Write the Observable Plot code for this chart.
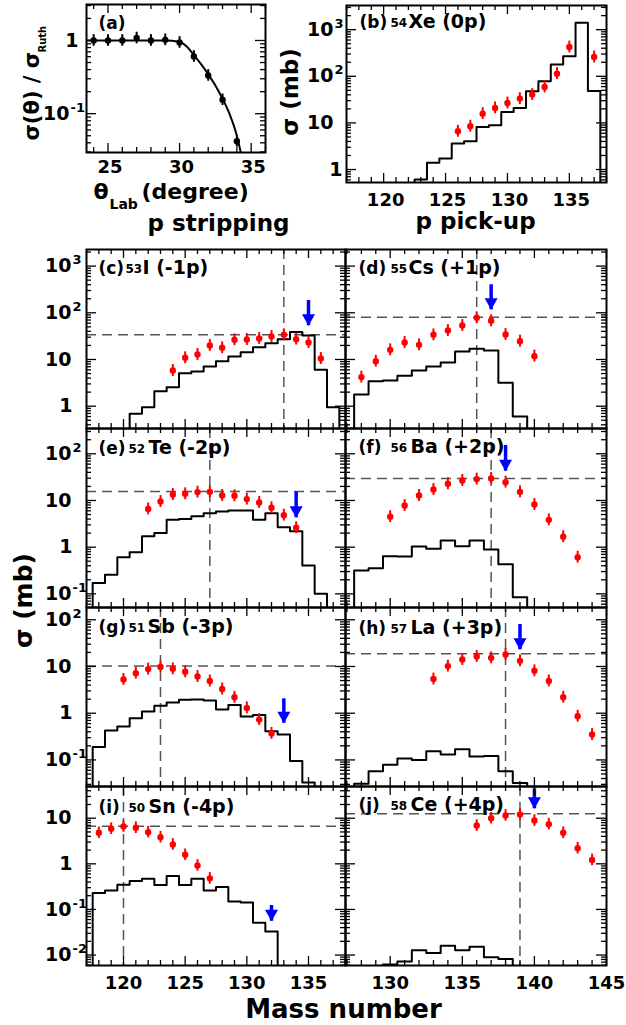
<!DOCTYPE html>
<html><head><meta charset="utf-8">
<script src="https://cdn.jsdelivr.net/npm/d3@7"></script>
<script src="https://cdn.jsdelivr.net/npm/@observablehq/plot@0.6"></script>
<style>
html,body{margin:0;padding:0;background:#fff;}
#chart{position:relative;width:626px;height:1025px;overflow:hidden;background:#fff;}
</style></head><body><div id="chart"></div>
<script>
// ---------------- data ----------------
// (a) elastic angular distribution
const angleA = [24,25,26,27,28,29,30,31,32,33,34];
const ratioA = [1.0,1.0,1.0,1.08,1.0,1.02,0.94,0.605,0.333,0.155,0.042];
const curveAngleA = [23.5,29,29.5,30,30.5,31,31.5,32,32.5,33,33.5,34,34.3];
const curveRatioA = [1,1,0.99,0.96,0.83,0.63,0.475,0.345,0.243,0.16,0.098,0.05,0.028];
const xTicksA = [25,30,35];
const yTicksA = [0.1,1];

// (b) 54Xe (0p)
const massB = [126,127,128,129,130,131,132,133,134,135,137];
const sigmaB = [6.6,8.5,15.8,21,26.8,33.2,40.5,59,114,425,260];
const histFirstB = 118;
const histB = [0.5,0.5,0.5,0.5,0.5,0.61,1.39,1.72,3.6,4.05,8.2,8.9,17.2,21,47.7,78,178,268,1413,48.5];
const xTicksB = [120,125,130,135];
const yTicksB = [1,10,100,1000];

// (c) 53I (-1p)
const massC = [124,125,126,127,128,129,130,131,132,133,134,135,136];
const sigmaC = [5.8,10.9,12.8,20,17.8,26.4,26.8,28.2,31.1,33.8,27.3,23.1,10.5];
const histFirstC = 121;
const histC = [0.69,0.95,2.1,2.55,5.1,5.5,7.1,9.2,11.6,14.3,18.4,22.4,27.2,39,32.6,6,0.95];
const refC = [133, 33.8];
const arrowC = [135, 53, 183];

// (d) 55Cs (+1p)
const massD = [128,129,130,131,132,133,134,135,136,137,138,139,140];
const sigmaD = [4.2,9.2,16.1,23.1,20.6,33.8,41.8,53.5,78.1,67.4,34.3,24.7,11.8];
const histFirstD = 128;
const histD = [1.78,3.43,3.55,4.5,5.8,7.1,8.6,14.8,16.9,15.6,3.16,0.6];
const refD = [136, 80.6];
const arrowD = [137, 116, 398];

// (e) 52Te (-2p)
const massE = [122,123,124,125,126,127,128,129,130,131,132,133,134];
const sigmaE = [6.6,9.5,13.4,13.9,15.1,15.3,12.8,12.6,10.7,9.1,7.0,4.85,2.6];
const histFirstE = 118;
const histE = [0.17,0.255,0.61,0.78,1.72,2.0,3.85,4.0,4.6,5.35,5.8,6.1,6.1,3.85,5.35,2.68,2.2,0.405,0.1];
const refE = [127, 15.6];
const arrowE = [134, 4.26, 15.1];

// (f) 56Ba (+2p)
const massF = [130,131,132,133,134,135,136,137,138,139,140,141,142,143];
const sigmaF = [4.5,7.8,12.8,17.2,22.8,26.8,28.7,29.6,24.7,15.3,8.2,3.85,1.67,0.61];
const histFirstF = 128;
const histF = [0.316,0.355,0.64,0.63,1.03,0.92,1.39,1.05,1.39,0.89,0.43,0.085];
const refF = [137, 29.6];
const arrowF = [138, 42.4, 151];

// (g) 51Sb (-3p)
const massG = [120,121,122,123,124,125,126,127,128,129,130,131,132];
const sigmaG = [5.27,7.2,8.8,9.8,8.9,7.7,6.1,4.9,3.3,2.2,1.3,0.73,0.37];
const histFirstG = 118;
const histG = [0.19,0.425,0.52,0.78,1.09,1.44,1.69,1.93,1.96,1.87,1.2,1.5,0.85,0.92,0.41,0.35,0.095,0.033];
const refG = [123, 10.2];
const arrowG = [133, 0.61, 2.03];

// (h) 57La (+3p)
const massH = [133,134,135,136,137,138,139,140,141,142,143,144];
const sigmaH = [5.4,10.2,14.1,16.4,15.3,18.1,13.2,8.1,4.9,2.2,0.86,0.35];
const histFirstH = 128;
const histH = [0.031,0.057,0.079,0.107,0.1,0.153,0.13,0.17,0.118,0.122,0.057,0.032];
const refH = [138, 18.7];
const arrowH = [139, 22.8, 79];

// (i) 50Sn (-4p)
const massI = [118,119,120,121,122,123,124,125,126,127];
const sigmaI = [4.8,5.9,6.6,6.2,4.95,3.85,2.66,1.58,0.92,0.48];
const histFirstI = 118;
const histI = [0.23,0.26,0.35,0.42,0.47,0.345,0.54,0.345,0.47,0.26,0.31,0.149,0.142,0.051,0.033];
const refI = [120, 6.7];
const arrowI = [132, 0.055, 0.122];

// (j) 58Ce (+4p)
const massJ = [136,137,138,139,140,141,142,143,144];
const sigmaJ = [6.9,10.0,11.5,12.1,8.9,7.4,4.8,2.2,1.22];
const histFirstJ = 130;
const histJ = [0.0062,0.0072,0.0127,0.0111,0.016,0.0127,0.0153,0.0089,0.0082];
const refJ = [139, 12.5];
const arrowJ = [140, 16.1, 44];

const yTicksRow1 = [1,10,100,1000];
const yTicksRow2 = [0.1,1,10,100];
const yTicksRow3 = [0.1,1,10,100];
const yTicksRow4 = [0.01,0.1,1,10];
const xTicksLeft = [120,125,130,135];
const xTicksRight = [130,135,140,145];

// ---------------- style ----------------
const FONT = "DejaVu Sans";
const RED = "#ff0000", BLUE = "#0000ff", DASH = "#555555";
const FLOOR = 1e-6;     // empty bins drawn below the frame
const ERR = 1.34;       // size of the error bars
const ERR_A = 1.2;

const chart = document.getElementById("chart");

const downTriangle = {draw(ctx, size) {
  const r = Math.sqrt(size / Math.PI), w = 1.3 * r, h = 2.3 * r;
  ctx.moveTo(0, 0); ctx.lineTo(-w, -h); ctx.lineTo(w, -h); ctx.closePath();
}};

const txt = (s, o) => Plot.text([s], {text: d => d, fontFamily: FONT, fontWeight: "bold", fill: "black", ...o});

function logTicks([lo, hi]) {
  const major = [], minor = [];
  for (let e = Math.floor(Math.log10(lo)) - 1; e <= Math.ceil(Math.log10(hi)); e++) {
    for (let m = 1; m <= 9; m++) {
      const v = m * Math.pow(10, e);
      if (v < lo || v > hi) continue;
      (m === 1 ? major : minor).push(v);
    }
  }
  return {major, minor};
}
function linTicks([lo, hi], step) {
  const major = [], minor = [];
  for (let v = Math.ceil(lo); v <= hi; v++) ((v % step === 0) ? major : minor).push(v);
  return {major, minor};
}
function frameTicks(W, H, xd, yd, step) {
  const xs = linTicks(xd, step), ys = logTicks(yd);
  const st = {stroke: "black", strokeWidth: 1.3};
  return [
    Plot.tickX(xs.major, {x: d => d, insetTop: H - 9, ...st}),
    Plot.tickX(xs.major, {x: d => d, insetBottom: H - 9, ...st}),
    Plot.tickX(xs.minor, {x: d => d, insetTop: H - 5, ...st}),
    Plot.tickX(xs.minor, {x: d => d, insetBottom: H - 5, ...st}),
    Plot.tickY(ys.major, {y: d => d, insetRight: W - 10, ...st}),
    Plot.tickY(ys.major, {y: d => d, insetLeft: W - 10, ...st}),
    Plot.tickY(ys.minor, {y: d => d, insetRight: W - 5, ...st}),
    Plot.tickY(ys.minor, {y: d => d, insetLeft: W - 5, ...st})
  ];
}
function yLabels(vals, {dx1, dx10, dxBase, dxExp}) {
  const c = {y: d => d, fontFamily: FONT, fontWeight: "bold", frameAnchor: "left", lineAnchor: "middle"};
  const pow = vals.filter(v => v !== 1 && v !== 10);
  return [
    Plot.text(vals.filter(v => v === 1), {...c, text: d => String(d), textAnchor: "end", dx: dx1, fontSize: 19}),
    Plot.text(vals.filter(v => v === 10), {...c, text: d => String(d), textAnchor: "end", dx: dx10, fontSize: 19}),
    Plot.text(pow, {...c, text: () => "10", textAnchor: "end", dx: dxBase, fontSize: 19}),
    Plot.text(pow, {...c, text: d => String(Math.round(Math.log10(d))), textAnchor: "start", dx: dxExp, dy: -6, fontSize: 13})
  ];
}
function xLabels(vals, dy, dx = 0) {
  return [Plot.text(vals, {x: d => d, text: d => String(d), frameAnchor: "bottom", lineAnchor: "bottom",
    dy, dx, fontFamily: FONT, fontWeight: "bold", fontSize: 18})];
}
function panelLabel(tag, z, name, dxs, dy) {
  const c = {frameAnchor: "top-left", textAnchor: "start", lineAnchor: "bottom"};
  const out = [txt(tag, {...c, dx: dxs[0], dy, fontSize: 17})];
  if (z) out.push(txt(z, {...c, dx: dxs[1], dy: dy - 1, fontSize: 12}));
  if (name) out.push(txt(name, {...c, dx: dxs[2], dy, fontSize: 19}));
  return out;
}
function histLine(first, values) {
  const pts = [{x: first - 0.5, y: FLOOR}];
  values.forEach((v, i) => pts.push({x: first + i - 0.5, y: v}));
  const e = first + values.length - 0.5;
  pts.push({x: e, y: values[values.length - 1]});
  pts.push({x: e, y: FLOOR});
  return pts;
}
function addPanel({left, top, W, H, xd, yd, step, marks}) {
  const svg = Plot.plot({
    width: W, height: H, marginTop: 0, marginRight: 0, marginBottom: 0, marginLeft: 0,
    x: {domain: xd, axis: null},
    y: {type: "log", domain: yd, axis: null},
    style: {position: "absolute", left: left + "px", top: top + "px", background: "transparent",
      overflow: "visible", maxWidth: "none"},
    marks: [...marks, ...frameTicks(W, H, xd, yd, step), Plot.frame({stroke: "black", strokeWidth: 2})]
  });
  chart.appendChild(svg);
}
function dataMarks(mass, sigma, histFirst, hist) {
  const pts = mass.map((m, i) => ({x: m, y: sigma[i]}));
  return [
    Plot.line(histLine(histFirst, hist), {x: "x", y: "y", curve: "step-after", stroke: "black", strokeWidth: 2, clip: true}),
    Plot.ruleX(pts, {x: "x", y1: d => d.y / ERR, y2: d => d.y * ERR, stroke: RED, strokeWidth: 2}),
    Plot.dot(pts, {x: "x", y: "y", r: 3.2, fill: RED})
  ];
}

// ---------------- panel (a) ----------------
{
  const pts = angleA.map((a, i) => ({x: a, y: ratioA[i]}));
  const curve = curveAngleA.map((a, i) => ({x: a, y: curveRatioA[i]}));
  const fb = {frameAnchor: "bottom-left", textAnchor: "start", lineAnchor: "bottom"};
  addPanel({left: 86, top: 4, W: 179, H: 148, xd: [23.5, 36], yd: [0.0295, 3.1], step: 5, marks: [
    Plot.line(curve, {x: "x", y: "y", curve: "monotone-x", stroke: "black", strokeWidth: 2, clip: true}),
    Plot.ruleX(pts, {x: "x", y1: d => d.y / ERR_A, y2: d => d.y * ERR_A, stroke: "black", strokeWidth: 2}),
    Plot.dot(pts, {x: "x", y: "y", r: 3.2, fill: "black"}),
    ...panelLabel("(a)", null, null, [12], 24),
    ...yLabels(yTicksA, {dx1: -8, dx10: -17, dxBase: -17, dxExp: -16}),
    ...xLabels(xTicksA, 20, 2),
    txt("θ", {...fb, dx: 7, dy: 46, fontSize: 22}),
    txt("Lab", {...fb, dx: 23, dy: 56, fontSize: 14}),
    txt("(degree)", {...fb, dx: 55, dy: 46, fontSize: 22}),
    txt("p stripping", {...fb, dx: 61, dy: 78, fontSize: 23}),
    txt("σ(θ) / σ", {frameAnchor: "top-left", textAnchor: "start", lineAnchor: "middle", rotate: -90, dx: -54, dy: 136, fontSize: 21}),
    txt("Ruth", {frameAnchor: "top-left", textAnchor: "start", lineAnchor: "middle", rotate: -90, dx: -44, dy: 48, fontSize: 10})
  ]});
}

// ---------------- panel (b) ----------------
addPanel({left: 346, top: 5, W: 260, H: 177, xd: [117, 138], yd: [0.527, 3300], step: 5, marks: [
  ...dataMarks(massB, sigmaB, histFirstB, histB),
  ...panelLabel("(b)", "54", "Xe (0p)", [13, 44, 62], 22),
  ...yLabels(yTicksB, {dx1: -4, dx10: -13, dxBase: -13, dxExp: -12}),
  ...xLabels(xTicksB, 23, 2),
  txt("p pick-up", {frameAnchor: "bottom-left", textAnchor: "start", lineAnchor: "bottom", dx: 69, dy: 46, fontSize: 23}),
  txt("σ (mb)", {frameAnchor: "left", textAnchor: "middle", lineAnchor: "middle", rotate: -90, dx: -56, dy: -2, fontSize: 23})
]});

// ---------------- grid ----------------
const rowTop = [249, 428, 607, 786];
const rowY = [[0.333, 2266], [0.051, 348], [0.027, 183], [0.0059, 49.6]];
const rowTicks = [yTicksRow1, yTicksRow2, yTicksRow3, yTicksRow4];
const grid = [
  {row: 0, col: 0, tag: "(c)", z: "53", name: "I (-1p)", dxs: [12, 39, 56], dy: 24, mass: massC, sigma: sigmaC, hf: histFirstC, hist: histC, ref: refC, arrow: arrowC},
  {row: 0, col: 1, tag: "(d)", z: "55", name: "Cs (+1p)", dxs: [13, 45, 63], dy: 24, mass: massD, sigma: sigmaD, hf: histFirstD, hist: histD, ref: refD, arrow: arrowD},
  {row: 1, col: 0, tag: "(e)", z: "52", name: "Te (-2p)", dxs: [12, 42, 62], dy: 25, mass: massE, sigma: sigmaE, hf: histFirstE, hist: histE, ref: refE, arrow: arrowE},
  {row: 1, col: 1, tag: "(f)", z: "56", name: "Ba (+2p)", dxs: [13, 45, 65], dy: 24, mass: massF, sigma: sigmaF, hf: histFirstF, hist: histF, ref: refF, arrow: arrowF},
  {row: 2, col: 0, tag: "(g)", z: "51", name: "Sb (-3p)", dxs: [12, 42, 61], dy: 25, mass: massG, sigma: sigmaG, hf: histFirstG, hist: histG, ref: refG, arrow: arrowG},
  {row: 2, col: 1, tag: "(h)", z: "57", name: "La (+3p)", dxs: [13, 45, 65], dy: 26, mass: massH, sigma: sigmaH, hf: histFirstH, hist: histH, ref: refH, arrow: arrowH},
  {row: 3, col: 0, tag: "(i)", z: "50", name: "Sn (-4p)", dxs: [12, 42, 62], dy: 26, mass: massI, sigma: sigmaI, hf: histFirstI, hist: histI, ref: refI, arrow: arrowI},
  {row: 3, col: 1, tag: "(j)", z: "58", name: "Ce (+4p)", dxs: [13, 45, 65], dy: 24, mass: massJ, sigma: sigmaJ, hf: histFirstJ, hist: histJ, ref: refJ, arrow: arrowJ}
];
for (const p of grid) {
  const left = p.col === 0 ? 86 : 345;
  const W = p.col === 0 ? 259 : 261;
  const xd = p.col === 0 ? [117, 138] : [126.9, 145];
  const arrow = [{x: p.arrow[0], tip: p.arrow[1], top: p.arrow[2]}];
  const marks = [
    Plot.ruleY([p.ref[1]], {stroke: DASH, strokeWidth: 1.5, strokeDasharray: "10,6"}),
    Plot.ruleX([p.ref[0]], {stroke: DASH, strokeWidth: 1.5, strokeDasharray: "10,6"}),
    ...dataMarks(p.mass, p.sigma, p.hf, p.hist),
    Plot.ruleX(arrow, {x: "x", y1: "top", y2: "tip", stroke: BLUE, strokeWidth: 3.5}),
    Plot.dot(arrow, {x: "x", y: "tip", symbol: downTriangle, r: 5, fill: BLUE, stroke: "none"}),
    ...panelLabel(p.tag, p.z, p.name, p.dxs, p.dy)
  ];
  if (p.col === 0) marks.push(...yLabels(rowTicks[p.row], {dx1: -14, dx10: -15, dxBase: -15, dxExp: -14}));
  if (p.row === 3) marks.push(...xLabels(p.col === 0 ? xTicksLeft : xTicksRight, 23));
  if (p.row === 2 && p.col === 0) marks.push(txt("σ (mb)", {frameAnchor: "top-left", textAnchor: "middle", lineAnchor: "middle", rotate: -90, dx: -62.5, dy: -7, fontSize: 25}));
  if (p.row === 3 && p.col === 0) marks.push(txt("Mass number", {frameAnchor: "bottom-left", textAnchor: "middle", lineAnchor: "bottom", dx: 257, dy: 52, fontSize: 26}));
  addPanel({left, top: rowTop[p.row], W, H: 179, xd, yd: rowY[p.row], step: 5, marks});
}
</script></body></html>
